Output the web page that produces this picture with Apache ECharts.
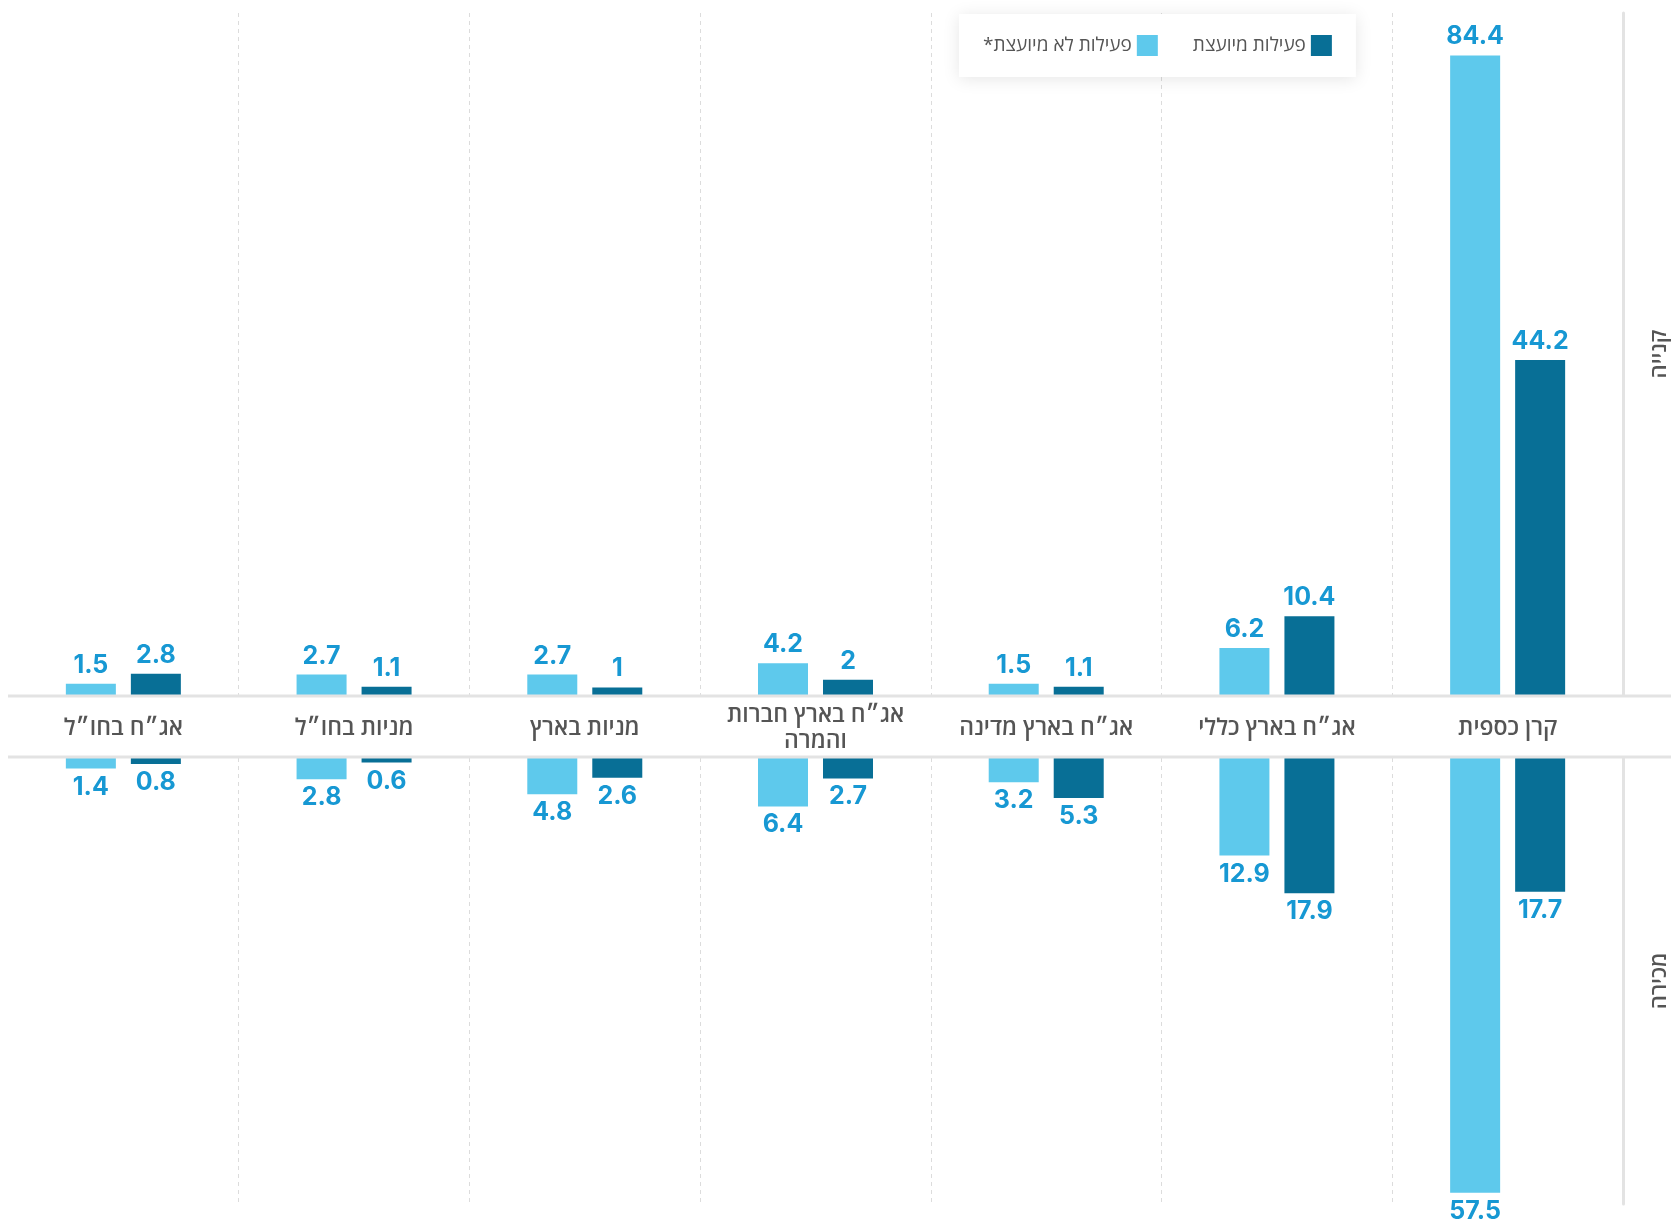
<!DOCTYPE html>
<html>
<head>
<meta charset="utf-8">
<script src="https://cdn.jsdelivr.net/npm/echarts@6/dist/echarts.min.js"></script>
<style>
html,body{margin:0;padding:0;background:#fff;}
#chart{width:1671px;height:1221px;}
</style>
</head>
<body>
<div id="chart" dir="rtl"></div>
<script>
// ---- data ----
const categories = ['קרן כספית', 'אג״ח בארץ כללי', 'אג״ח בארץ מדינה', 'אג״ח בארץ חברות והמרה', 'מניות בארץ', 'מניות בחו״ל', 'אג״ח בחו״ל'];
const seriesNames = ['פעילות לא מיועצת*', 'פעילות מיועצת'];
const buyUnadvised = [84.4, 6.2, 1.5, 4.2, 2.7, 2.7, 1.5];
const buyAdvised = [44.2, 10.4, 1.1, 2, 1, 1.1, 2.8];
const sellUnadvised = [57.5, 12.9, 3.2, 6.4, 4.8, 2.8, 1.4];
const sellAdvised = [17.7, 17.9, 5.3, 2.7, 2.6, 0.6, 0.8];
const axisNames = ['קנייה', 'מכירה'];

// ---- style / layout ----
const LIGHT = '#5ec9ec', DARK = '#086f96', LABEL = '#1798d3', GREY_TXT = '#555555';
const HEB_FONT = "'Open Sans', 'Liberation Sans', 'DejaVu Sans', sans-serif";
const NUM_FONT = "Inter, 'Open Sans', sans-serif";
const L = 8, R_X = 1623, TOP = 13, BASE1 = 695, BASE2 = 758, BOTTOM = 1204, W = 1671;

const chart = echarts.init(document.getElementById('chart'), null, {renderer: 'canvas'});

function valueLabel(pos) {
  return {show: true, position: pos, distance: 6, color: LABEL, fontFamily: NUM_FONT,
          fontWeight: 'bold', fontSize: 25};
}
function barSeries(name, data, idx, color, pos) {
  return {type: 'bar', name, data, xAxisIndex: idx, yAxisIndex: idx, barWidth: 50, barGap: '30%',
          itemStyle: {color}, label: valueLabel(pos), emphasis: {disabled: true}};
}
const splitLine = {show: true, showMaxLine: false, lineStyle: {color: '#dcdcdc', type: [4, 4], width: 1}};
// wrap long category names onto two lines at the last space
const wrapLabel = v => v.length > 16 ? v.replace(/ (\S+)$/, '\n$1') : v;
const axisNameStyle = {fontFamily: HEB_FONT, fontSize: 22, fontWeight: 600, color: GREY_TXT};

chart.setOption({
  animation: false,
  backgroundColor: '#fff',
  legend: {
    data: seriesNames,
    left: 959, top: 14,
    align: 'right',
    icon: 'rect',
    itemWidth: 21, itemHeight: 21, itemGap: 35,
    padding: [21, 24, 21, 24],
    backgroundColor: '#fff',
    shadowBlur: 16, shadowColor: 'rgba(0,0,0,0.10)', shadowOffsetY: 2,
    textStyle: {fontFamily: HEB_FONT, fontSize: 19, color: GREY_TXT},
    selectedMode: false
  },
  grid: [
    {left: L, width: R_X - L, top: TOP, height: BASE1 - TOP, outerBoundsMode: 'none', containLabel: false},
    {left: L, width: R_X - L, top: BASE2, height: BOTTOM - BASE2, outerBoundsMode: 'none', containLabel: false}
  ],
  xAxis: [
    {type: 'category', gridIndex: 0, data: categories, inverse: true, position: 'bottom',
     axisLine: {show: false}, axisTick: {show: false}, splitLine,
     axisLabel: {show: true, margin: 33, verticalAlign: 'middle', fontFamily: HEB_FONT, fontSize: 23,
                 fontWeight: 600, color: GREY_TXT, lineHeight: 26, interval: 0, formatter: wrapLabel}},
    {type: 'category', gridIndex: 1, data: categories, inverse: true, position: 'top',
     axisLine: {show: false}, axisTick: {show: false}, axisLabel: {show: false}, splitLine}
  ],
  yAxis: [
    {type: 'value', gridIndex: 0, min: 0, max: 90, position: 'right',
     axisLine: {show: true, lineStyle: {color: '#e3e3e3', width: 3}}, axisTick: {show: false},
     axisLabel: {show: false}, splitLine: {show: false},
     name: axisNames[0], nameLocation: 'middle', nameRotate: 90, nameGap: 26,
     nameTextStyle: axisNameStyle},
    {type: 'value', gridIndex: 1, min: 0, max: 59, inverse: true, position: 'right',
     axisLine: {show: true, lineStyle: {color: '#e3e3e3', width: 3}}, axisTick: {show: false},
     axisLabel: {show: false}, splitLine: {show: false},
     name: axisNames[1], nameLocation: 'middle', nameRotate: 90, nameGap: 26,
     nameTextStyle: axisNameStyle}
  ],
  graphic: [
    {type: 'line', shape: {x1: L, y1: BASE1 + 1, x2: W, y2: BASE1 + 1}, style: {stroke: '#e3e3e3', lineWidth: 3}, z: 10},
    {type: 'line', shape: {x1: L, y1: BASE2 - 1, x2: W, y2: BASE2 - 1}, style: {stroke: '#e3e3e3', lineWidth: 3}, z: 10}
  ],
  series: [
    barSeries(seriesNames[0], buyUnadvised, 0, LIGHT, 'top'),
    barSeries(seriesNames[1], buyAdvised, 0, DARK, 'top'),
    barSeries(seriesNames[0], sellUnadvised, 1, LIGHT, 'bottom'),
    barSeries(seriesNames[1], sellAdvised, 1, DARK, 'bottom')
  ]
});
</script>
</body>
</html>
